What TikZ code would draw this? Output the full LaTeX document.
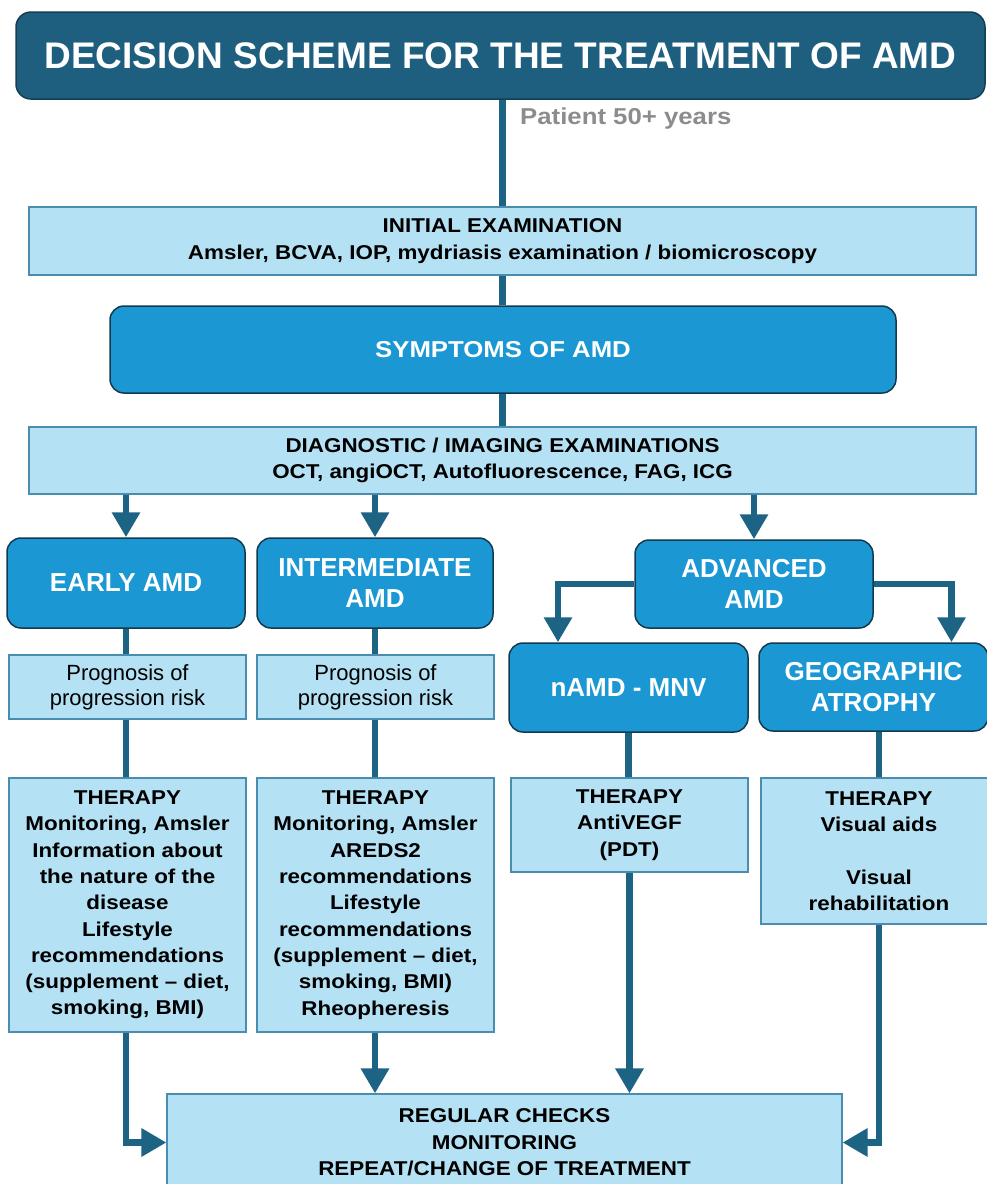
\documentclass[tikz,border=0pt]{standalone}
\usepackage{fontspec}
\setmainfont{Liberation Sans}
\newfontfamily\widesans[FakeStretch=1.12,Ligatures=TeX]{Liberation Sans}
\usetikzlibrary{arrows.meta}

\definecolor{amdDark}{HTML}{1E5F80}
\definecolor{amdBlue}{HTML}{1B98D4}
\definecolor{amdLight}{HTML}{B4E1F3}
\definecolor{amdEdge}{HTML}{4A8DAE}
\definecolor{amdLine}{HTML}{1D6384}
\definecolor{amdGray}{HTML}{8C8C8C}

\tikzset{
  headbox/.style={draw=amdDark!65!black, line width=1.5pt, fill=amdDark, rounded corners=15pt,
    text=white, inner sep=0pt, font=\fontsize{37}{44}\selectfont\bfseries},
  bluebox/.style={draw=amdDark!60!black, line width=1.5pt, fill=amdBlue, rounded corners=14pt,
    text=white, inner sep=0pt, align=center, font=\fontsize{26}{31.5}\selectfont\bfseries},
  lightbox/.style={draw=amdEdge, line width=1.2pt, fill=amdLight, inner sep=0pt, align=center,
    font=\widesans\fontsize{20}{26.3}\selectfont\bfseries},
  link/.style={draw=amdLine, line width=6.5pt},
  arr/.style={link, -{Triangle[width=27pt,length=25pt]}},
}

\begin{document}
\begin{tikzpicture}[x=1pt,y=-1pt]
  \useasboundingbox (0,0) rectangle (987,1184);
  % header, entry and common path
  \node[headbox, minimum width=969pt, minimum height=87pt] (title) at (500.5,55.5)
    {DECISION SCHEME FOR THE TREATMENT OF AMD};
  \node[anchor=base west, text=amdGray, inner sep=0pt, font=\widesans\fontsize{23}{26}\selectfont\bfseries]
    (patient) at (520,124) {Patient 50+ years};
  \node[lightbox, minimum width=947pt, minimum height=68pt, font=\widesans\fontsize{20}{27}\selectfont\bfseries]
    (initial) at (502.5,241) {INITIAL EXAMINATION\\Amsler, BCVA, IOP, mydriasis examination / biomicroscopy};
  \node[bluebox, minimum width=786pt, minimum height=87pt, font=\widesans\fontsize{23}{26}\selectfont\bfseries]
    (symptoms) at (503,349.5) {SYMPTOMS OF AMD};
  \node[lightbox, minimum width=947pt, minimum height=67pt]
    (diag) at (502.5,460.5) {DIAGNOSTIC / IMAGING EXAMINATIONS\\OCT, angiOCT, Autofluorescence, FAG, ICG};
  % stages
  \node[bluebox, minimum width=238pt, minimum height=90pt] (early) at (126,583) {EARLY AMD};
  \node[bluebox, minimum width=236pt, minimum height=90pt] (inter) at (375,583) {INTERMEDIATE\\AMD};
  \node[bluebox, minimum width=238pt, minimum height=88pt] (advanced) at (754,584) {ADVANCED\\AMD};
  \node[bluebox, minimum width=239pt, minimum height=89pt] (namd) at (628.5,687.5) {nAMD - MNV};
  \node[bluebox, minimum width=229pt, minimum height=88pt] (ga) at (873.5,687) {GEOGRAPHIC\\ATROPHY};
  \node[lightbox, minimum width=237pt, minimum height=64pt, font=\fontsize{22}{25}\selectfont]
    (progA) at (127.5,687) {Prognosis of\\progression risk};
  \node[lightbox, minimum width=237pt, minimum height=64pt, font=\fontsize{22}{25}\selectfont]
    (progB) at (375.5,687) {Prognosis of\\progression risk};
  % therapies
  \node[lightbox, minimum width=237pt, minimum height=254pt] (therA) at (127.5,905)
    {THERAPY\\Monitoring, Amsler\\Information about\\the nature of the\\disease\\Lifestyle\\recommendations\\(supplement -- diet,\\smoking, BMI)};
  \node[lightbox, minimum width=237pt, minimum height=254pt] (therB) at (375.5,905)
    {THERAPY\\Monitoring, Amsler\\AREDS2\\recommendations\\Lifestyle\\recommendations\\(supplement -- diet,\\smoking, BMI)\\Rheopheresis};
  \node[lightbox, minimum width=237pt, minimum height=94pt] (therC) at (629.5,825)
    {THERAPY\\AntiVEGF\\(PDT)};
  \node[lightbox, minimum width=236pt, minimum height=146pt] (therD) at (879,851)
    {THERAPY\\Visual aids\\[26.3pt]Visual\\rehabilitation};
  \node[lightbox, minimum width=675pt, minimum height=97pt] (final) at (504.5,1142.5)
    {REGULAR CHECKS\\MONITORING\\REPEAT/CHANGE OF TREATMENT};
  % connectors
  \draw[link] (initial.north) -- (initial.north |- title.south);
  \draw[link] (initial.south) -- (initial.south |- symptoms.north);
  \draw[link] (diag.north |- symptoms.south) -- (diag.north);
  \draw[arr] (early.north |- diag.south) -- (early.north);
  \draw[arr] (inter.north |- diag.south) -- (inter.north);
  \draw[arr] (advanced.north |- diag.south) -- (advanced.north);
  \draw[arr] (advanced.west) -| ([xshift=-70.5pt]namd.north);
  \draw[arr] (advanced.east) -| ([xshift=78pt]ga.north);
  \draw[link] (early.south) -- (early.south |- progA.north);
  \draw[link] (inter.south) -- (inter.south |- progB.north);
  \draw[link] (progA.south -| early.south) -- (therA.north -| early.south);
  \draw[link] (progB.south -| inter.south) -- (therB.north -| inter.south);
  \draw[link] (namd.south) -- (namd.south |- therC.north);
  \draw[link] (therD.north |- ga.south) -- (therD.north);
  \draw[arr] (therA.south -| early.south) |- (final.west);
  \draw[arr] (therB.south -| inter.south) -- (inter.south |- final.north);
  \draw[arr] (therC.south) -- (therC.south |- final.north);
  \draw[arr] (therD.south) |- (final.east);
\end{tikzpicture}
\end{document}
